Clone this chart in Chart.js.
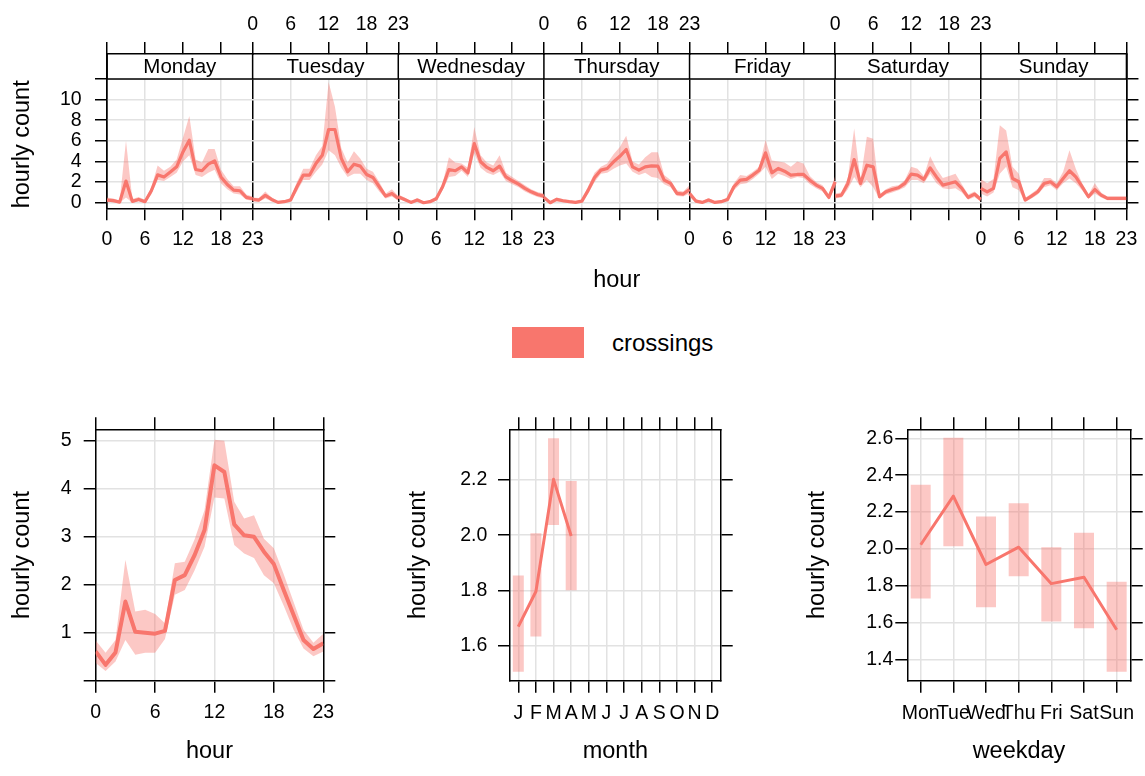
<!DOCTYPE html>
<html>
<head>
<meta charset="utf-8">
<script src="https://cdn.jsdelivr.net/npm/chart.js@4.4.1/dist/chart.umd.min.js"></script>
<style>
  html, body { margin: 0; padding: 0; background: #fff; }
  body { width: 1145px; height: 776px; position: relative; overflow: hidden; font-family: "Liberation Sans", Arial, sans-serif; }
  canvas { position: absolute; }
  #legend { position: absolute; left: 512px; top: 327px; height: 31px; display: flex; align-items: center; font-size: 24px; color: #000; }
  #legend .box { width: 72px; height: 31px; background: #F8766D; margin-right: 28px; }
</style>
</head>
<body>
<canvas id="week" width="1145" height="300" style="left:0;top:0"></canvas>
<div id="legend"><span class="box"></span><span>crossings</span></div>
<canvas id="hour" width="350" height="386" style="left:0;top:390px"></canvas>
<canvas id="month" width="345" height="386" style="left:400px;top:390px"></canvas>
<canvas id="weekday" width="345" height="386" style="left:800px;top:390px"></canvas>
<script>
// ---------- data ----------
const dayNames = ["Monday", "Tuesday", "Wednesday", "Thursday", "Friday", "Saturday", "Sunday"];
const hourTicks = [0, 6, 12, 18, 23];
const weekYTicks = [0, 2, 4, 6, 8, 10, 12];

const mondayMean = [0.26, 0.2, 0.06, 2.1, 0.13, 0.32, 0.1, 1.16, 2.7, 2.5, 2.97, 3.48, 4.93, 6.06, 3.22, 3.1, 3.74, 4.06, 2.5, 1.77, 1.22, 1.16, 0.52, 0.39];
const mondayLow = [0.1, 0.05, 0.0, 0.5, 0.0, 0.15, 0.0, 0.8, 2.2, 2.1, 2.5, 2.9, 4.0, 4.6, 2.7, 2.5, 2.9, 3.2, 1.9, 1.3, 0.9, 0.8, 0.3, 0.2];
const mondayHigh = [0.5, 0.4, 0.2, 6.0, 0.35, 0.55, 0.3, 1.5, 3.6, 3.1, 3.5, 4.2, 6.3, 8.4, 4.2, 3.9, 5.2, 5.2, 3.2, 2.3, 1.6, 1.6, 0.8, 0.6];

const tuesdayMean = [0.32, 0.26, 0.71, 0.32, 0.03, 0.1, 0.26, 1.55, 2.68, 2.68, 3.8, 4.6, 7.1, 7.1, 4.3, 3.0, 3.74, 3.55, 2.74, 2.45, 1.55, 0.64, 0.9, 0.42];
const tuesdayLow = [0.15, 0.1, 0.4, 0.15, 0.0, 0.0, 0.1, 1.1, 2.2, 2.2, 3.0, 3.7, 5.1, 4.6, 3.4, 2.5, 2.8, 2.8, 2.2, 1.9, 1.1, 0.4, 0.6, 0.2];
const tuesdayHigh = [0.5, 0.45, 1.1, 0.5, 0.15, 0.25, 0.45, 2.0, 3.3, 3.3, 4.6, 5.5, 11.7, 9.3, 5.3, 3.9, 5.0, 4.3, 3.3, 3.0, 2.0, 0.9, 1.3, 0.65];

const wednesdayMean = [0.58, 0.32, 0.03, 0.26, 0.0, 0.1, 0.39, 1.55, 3.22, 3.1, 3.48, 2.9, 5.74, 3.97, 3.42, 3.1, 3.55, 2.5, 2.13, 1.8, 1.39, 1.06, 0.8, 0.64];
const wednesdayLow = [0.35, 0.15, 0.0, 0.1, 0.0, 0.0, 0.2, 1.2, 2.5, 2.6, 3.1, 2.5, 4.8, 3.4, 2.9, 2.7, 3.0, 2.1, 1.8, 1.5, 1.1, 0.8, 0.55, 0.4];
const wednesdayHigh = [0.8, 0.5, 0.15, 0.45, 0.1, 0.25, 0.6, 1.9, 4.4, 3.9, 3.8, 3.4, 7.35, 4.6, 3.9, 3.6, 4.6, 2.9, 2.5, 2.1, 1.7, 1.3, 1.05, 0.9];

const thursdayMean = [0.52, 0.0, 0.32, 0.19, 0.1, 0.03, 0.16, 1.22, 2.45, 3.16, 3.32, 3.97, 4.5, 5.16, 3.48, 3.16, 3.48, 3.58, 3.55, 2.2, 1.87, 0.9, 0.84, 1.29];
const thursdayLow = [0.3, 0.0, 0.15, 0.05, 0.0, 0.0, 0.05, 0.9, 2.0, 2.8, 2.9, 3.3, 3.6, 3.8, 3.0, 2.7, 2.9, 2.5, 2.4, 1.8, 1.5, 0.65, 0.6, 0.9];
const thursdayHigh = [0.75, 0.15, 0.5, 0.35, 0.25, 0.15, 0.3, 1.6, 2.9, 3.5, 3.8, 4.7, 5.4, 6.5, 4.0, 3.7, 4.4, 4.9, 4.9, 2.7, 2.2, 1.2, 1.1, 1.7];

const fridayMean = [0.9, 0.16, 0.03, 0.26, 0.03, 0.1, 0.32, 1.55, 2.19, 2.26, 2.68, 3.16, 4.84, 2.9, 3.32, 3.06, 2.68, 2.74, 2.74, 2.19, 1.71, 1.39, 0.52, 2.03];
const fridayLow = [0.6, 0.0, 0.0, 0.1, 0.0, 0.0, 0.15, 1.2, 1.8, 1.9, 2.3, 2.8, 3.5, 2.3, 2.8, 2.6, 2.3, 2.5, 2.4, 1.8, 1.4, 1.1, 0.3, 1.5];
const fridayHigh = [1.2, 0.35, 0.15, 0.45, 0.15, 0.25, 0.5, 1.9, 2.7, 2.6, 3.0, 3.5, 6.1, 4.1, 4.0, 3.9, 3.5, 4.0, 3.8, 2.6, 2.0, 1.7, 0.8, 2.6];

const saturdayMean = [0.64, 0.74, 1.87, 4.19, 1.87, 3.64, 3.48, 0.58, 1.06, 1.29, 1.45, 1.87, 2.77, 2.68, 2.26, 3.38, 2.5, 1.71, 1.87, 2.03, 1.39, 0.52, 0.84, 0.32];
const saturdayLow = [0.4, 0.5, 1.3, 2.5, 1.5, 2.2, 1.5, 0.35, 0.8, 1.0, 1.2, 1.5, 2.2, 2.2, 1.9, 2.8, 1.9, 1.4, 1.3, 1.4, 1.0, 0.3, 0.55, 0.1];
const saturdayHigh = [0.9, 1.0, 2.4, 7.2, 2.2, 6.4, 6.2, 0.8, 1.3, 1.6, 1.7, 2.2, 3.5, 3.3, 2.6, 4.5, 3.3, 2.4, 2.6, 2.8, 1.8, 0.8, 1.1, 0.55];

const sundayMean = [1.39, 1.06, 1.39, 4.29, 4.93, 2.35, 2.03, 0.26, 0.64, 1.06, 1.87, 2.03, 1.55, 2.35, 3.1, 2.5, 1.55, 0.58, 1.29, 0.74, 0.42, 0.42, 0.42, 0.42];
const sundayLow = [0.9, 0.6, 1.0, 2.8, 3.5, 1.5, 1.2, 0.1, 0.4, 0.8, 1.5, 1.7, 1.2, 1.9, 2.35, 1.9, 1.2, 0.35, 0.9, 0.5, 0.25, 0.25, 0.25, 0.25];
const sundayHigh = [2.3, 1.9, 2.3, 7.5, 7.0, 3.5, 2.8, 0.45, 0.9, 1.35, 2.4, 2.4, 1.9, 3.0, 5.1, 3.3, 1.9, 0.8, 1.9, 1.0, 0.6, 0.6, 0.6, 0.6];

const hourMean = [0.61, 0.33, 0.59, 1.65, 1.02, 1.0, 0.98, 1.04, 2.10, 2.20, 2.62, 3.14, 4.49, 4.35, 3.26, 3.03, 3.0, 2.69, 2.43, 1.89, 1.37, 0.85, 0.66, 0.78];
const hourLow = [0.37, 0.20, 0.40, 0.85, 0.54, 0.58, 0.58, 0.87, 1.79, 1.89, 2.30, 2.79, 3.82, 3.80, 2.83, 2.65, 2.56, 2.20, 2.03, 1.56, 1.06, 0.67, 0.51, 0.61];
const hourHigh = [0.84, 0.58, 0.85, 2.52, 1.44, 1.48, 1.39, 1.20, 2.45, 2.48, 2.95, 3.56, 5.02, 5.00, 3.73, 3.38, 3.45, 2.96, 2.76, 2.22, 1.64, 1.06, 0.79, 0.98];
const hourYTicks = [0, 1, 2, 3, 4, 5];

const monthLabels = ["J", "F", "M", "A", "M", "J", "J", "A", "S", "O", "N", "D"];
const monthMean = [1.669, 1.796, 2.202, 1.997];
const monthLow = [1.506, 1.633, 2.037, 1.801];
const monthHigh = [1.854, 2.007, 2.351, 2.196];
const monthYTicks = [1.6, 1.8, 2.0, 2.2];

const weekdayLabels = ["Mon", "Tue", "Wed", "Thu", "Fri", "Sat", "Sun"];
const weekdayMean = [2.022, 2.286, 1.915, 2.009, 1.811, 1.846, 1.561];
const weekdayLow = [1.730, 2.014, 1.683, 1.851, 1.605, 1.569, 1.333];
const weekdayHigh = [2.348, 2.603, 2.176, 2.248, 2.009, 2.087, 1.821];
const weekdayYTicks = [1.4, 1.6, 1.8, 2.0, 2.2, 2.4, 2.6];

// ---------- style ----------
const FONT = "'Liberation Sans', Arial, sans-serif";
const black = "#000";
const gridGrey = "#e2e2e2";
const lineCol = "#F8766D";
const bandCol = "rgba(248,118,109,0.4)";

function axis(o) {
  return {
    type: "linear",
    position: o.position,
    min: o.min,
    max: o.max,
    offset: false,
    afterBuildTicks: s => { s.ticks = o.ticks.map(v => ({ value: v })); },
    afterFit: s => { if (s.isHorizontal()) s.height = o.size; else s.width = o.size; },
    grid: {
      offset: false,
      drawOnChartArea: !!o.grid,
      color: o.gridColor || gridGrey,
      lineWidth: 1.5,
      tickLength: 12,
      tickColor: black,
      tickWidth: 1.5
    },
    border: { display: true, color: black, width: 1.5 },
    ticks: {
      display: !!o.label,
      callback: o.label || (() => ""),
      padding: o.pad === undefined ? 8 : o.pad,
      color: black,
      font: { family: FONT, size: 19.5 },
      maxRotation: 0,
      autoSkip: false
    },
    title: o.title
      ? { display: true, text: o.title, color: black, font: { family: FONT, size: 23.5 },
          padding: o.titlePad, align: o.titleAlign || "center" }
      : { display: false }
  };
}

function bandSets(xs, low, high, mean, width) {
  return [
    { data: low.map((v, i) => ({ x: xs[i], y: v })), borderWidth: 0, pointRadius: 0, fill: false, order: 1 },
    { data: high.map((v, i) => ({ x: xs[i], y: v })), borderWidth: 0, pointRadius: 0, fill: "-1", backgroundColor: bandCol, order: 1 },
    meanSet(xs, mean, width)
  ];
}

function meanSet(xs, mean, width) {
  return { data: mean.map((v, i) => ({ x: xs[i], y: v })), borderColor: lineCol, borderWidth: width,
    borderJoinStyle: "round", pointRadius: 0, fill: false, tension: 0, order: 0 };
}

// interval rectangles: one thick vertical segment per category, gaps between them
function intervalSet(xs, low, high, thickness) {
  const pts = [];
  xs.forEach((x, i) => { pts.push({ x, y: low[i] }, { x, y: high[i] }, { x, y: null }); });
  return { data: pts, borderColor: bandCol, borderWidth: thickness, borderCapStyle: "butt",
    pointRadius: 0, fill: false, spanGaps: false, tension: 0, order: 1 };
}

const baseOptions = padding => ({
  responsive: false,
  animation: false,
  layout: { padding },
  plugins: { legend: { display: false }, tooltip: { enabled: false } }
});

// ---------- weekday x hour panels ----------
const dayMeans = [mondayMean, tuesdayMean, wednesdayMean, thursdayMean, fridayMean, saturdayMean, sundayMean];
const dayLows = [mondayLow, tuesdayLow, wednesdayLow, thursdayLow, fridayLow, saturdayLow, sundayLow];
const dayHighs = [mondayHigh, tuesdayHigh, wednesdayHigh, thursdayHigh, fridayHigh, saturdayHigh, sundayHigh];

const weekTicks = [];
dayNames.forEach((n, d) => hourTicks.slice(0, -1).forEach(h => weekTicks.push(23 * d + h)));
weekTicks.push(23 * 7);

function weekLabel(parity) {
  return v => {
    const d = Math.floor(v / 23), h = v - 23 * d;
    if (h === 0 && d > 0 && (d - 1) % 2 === parity) return "23";
    if (d < 7 && d % 2 === parity) return String(h);
    return "";
  };
}

let weekSets = [];
dayMeans.forEach((m, d) => {
  const xs = m.map((v, h) => 23 * d + h);
  weekSets = weekSets.concat(bandSets(xs, dayLows[d], dayHighs[d], m, 3.2));
});

const stripPlugin = {
  id: "strips",
  beforeDatasetsDraw(chart) {
    const { ctx, chartArea: a, scales } = chart;
    const yb = scales.y.getPixelForValue(12);
    ctx.save();
    ctx.fillStyle = "#fff";
    ctx.fillRect(a.left + 1, a.top + 1, a.right - a.left - 2, yb - a.top - 1);
    ctx.strokeStyle = black;
    ctx.lineWidth = 1.5;
    ctx.beginPath();
    ctx.moveTo(a.left, yb);
    ctx.lineTo(a.right, yb);
    for (let d = 0; d <= 7; d++) {
      const x = scales.x.getPixelForValue(23 * d);
      ctx.moveTo(x, a.top);
      ctx.lineTo(x, yb);
    }
    ctx.stroke();
    ctx.fillStyle = black;
    ctx.font = "20.5px " + FONT;
    ctx.textAlign = "center";
    ctx.textBaseline = "alphabetic";
    dayNames.forEach((name, d) => {
      const x = scales.x.getPixelForValue(23 * d + 11.5);
      ctx.fillText(name, x, yb - 6);
    });
    ctx.restore();
  }
};

new Chart(document.getElementById("week"), {
  type: "line",
  data: { datasets: weekSets },
  options: {
    ...baseOptions({ left: 0, right: 0, top: 0, bottom: 0 }),
    scales: {
      x: axis({ position: "bottom", min: 0, max: 161, ticks: weekTicks, size: 91.7, grid: true,
        gridColor: c => (c.tick && c.tick.value % 23 === 0 ? black : gridGrey),
        label: weekLabel(0), pad: 7.7, title: "hour", titlePad: { top: 0, bottom: 5 } }),
      xTop: axis({ position: "top", min: 0, max: 161, ticks: weekTicks, size: 54, label: weekLabel(1), pad: 6 }),
      y: axis({ position: "left", min: -0.54, max: 14.42, ticks: weekYTicks, size: 107, grid: true,
        label: v => (v === 12 ? "" : String(v)), pad: 13.3, title: "hourly count", titleAlign: "start",
        titlePad: { top: 8.4, bottom: 0 } }),
      yRight: axis({ position: "right", min: -0.54, max: 14.42, ticks: weekYTicks, size: 15 })
    }
  },
  plugins: [stripPlugin]
});

// ---------- hour ----------
new Chart(document.getElementById("hour"), {
  type: "line",
  data: { datasets: bandSets(hourMean.map((v, h) => h), hourLow, hourHigh, hourMean, 4) },
  options: {
    ...baseOptions({ left: 0, right: 14.7, top: 27.3, bottom: 0 }),
    scales: {
      x: axis({ position: "bottom", min: 0, max: 23, ticks: hourTicks, size: 95.3, grid: true,
        label: v => String(v), pad: 8.1, title: "hour", titlePad: { top: 0, bottom: 9.9 } }),
      xTop: axis({ position: "top", min: 0, max: 23, ticks: hourTicks, size: 12 }),
      y: axis({ position: "left", min: 0, max: 5.24, ticks: hourYTicks, size: 95.7, grid: true,
        label: v => (v === 0 ? "" : String(v)), pad: 12, title: "hourly count", titlePad: { top: 8.4, bottom: 0 } }),
      yRight: axis({ position: "right", min: 0, max: 5.24, ticks: hourYTicks, size: 12 })
    }
  }
});

// ---------- month ----------
const monthTicks = monthLabels.map((m, i) => i + 1);
const monthXs = monthMean.map((v, i) => i + 1);
new Chart(document.getElementById("month"), {
  type: "line",
  data: { datasets: [meanSet(monthXs, monthMean, 3), intervalSet(monthXs, monthLow, monthHigh, 11)] },
  options: {
    ...baseOptions({ left: 0, right: 12.3, top: 27.3, bottom: 0 }),
    scales: {
      x: axis({ position: "bottom", min: 0.53, max: 12.48, ticks: monthTicks, size: 95.3, grid: true,
        label: v => monthLabels[v - 1], pad: 8.9, title: "month", titlePad: { top: 0, bottom: 9.9 } }),
      xTop: axis({ position: "top", min: 0.53, max: 12.48, ticks: monthTicks, size: 12 }),
      y: axis({ position: "left", min: 1.4734, max: 2.383, ticks: monthYTicks, size: 110, grid: true,
        label: v => v.toFixed(1), pad: 10.7, title: "hourly count", titlePad: { top: 4.9, bottom: 0 } }),
      yRight: axis({ position: "right", min: 1.4734, max: 2.383, ticks: monthYTicks, size: 12 })
    }
  }
});

// ---------- weekday ----------
const weekdayTicks = weekdayLabels.map((w, i) => i);
new Chart(document.getElementById("weekday"), {
  type: "line",
  data: { datasets: [meanSet(weekdayTicks, weekdayMean, 3), intervalSet(weekdayTicks, weekdayLow, weekdayHigh, 20)] },
  options: {
    ...baseOptions({ left: 0, right: 2.3, top: 27.3, bottom: 0 }),
    scales: {
      x: axis({ position: "bottom", min: -0.41, max: 6.43, ticks: weekdayTicks, size: 95.3, grid: true,
        label: v => weekdayLabels[v], pad: 8.9, title: "weekday", titlePad: { top: 0, bottom: 9.9 } }),
      xTop: axis({ position: "top", min: -0.41, max: 6.43, ticks: weekdayTicks, size: 12 }),
      y: axis({ position: "left", min: 1.284, max: 2.649, ticks: weekdayYTicks, size: 107.3, grid: true,
        label: v => v.toFixed(1), pad: 2, title: "hourly count", titlePad: { top: 3.4, bottom: 0 } }),
      yRight: axis({ position: "right", min: 1.284, max: 2.649, ticks: weekdayYTicks, size: 12 })
    }
  }
});
</script>
</body>
</html>
